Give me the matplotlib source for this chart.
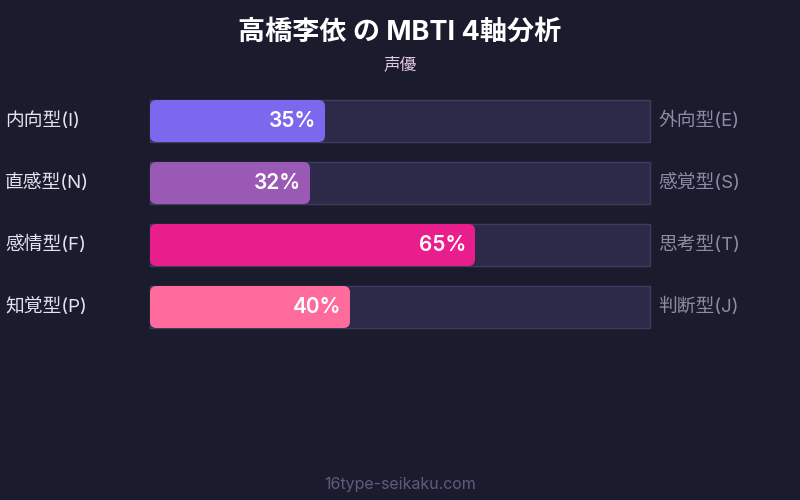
import matplotlib.pyplot as plt
from matplotlib.patches import FancyBboxPatch, Rectangle

plt.rcParams['font.family'] = ['Inter', 'Noto Sans CJK JP', 'DejaVu Sans']

title = '高橋李依 の MBTI 4軸分析'
subtitle = '声優'
footer = '16type-seikaku.com'

left_labels = ['内向型(I)', '直感型(N)', '感情型(F)', '知覚型(P)']
right_labels = ['外向型(E)', '感覚型(S)', '思考型(T)', '判断型(J)']
values = [35, 32, 65, 40]
colors = ['#7b68ee', '#9b59b6', '#e91e8c', '#ff6b9d']

bg = '#1b1b2e'
W, H = 800, 500

fig = plt.figure(figsize=(8, 5), dpi=100, facecolor=bg)

# track area: x 150..650 px, rows from y=90 px, 62 px apart
ax = fig.add_axes([150 / W, (H - 338) / H, 500 / W, 248 / H])
ax.set_facecolor('none')
ax.set_xlim(0, 100)
ax.set_ylim(len(values) - 0.5, -0.5)
ax.axis('off')

bar_h = 42 / 62
# pixels per data unit: x 5, y 62
aspect = 5 / 62

for i, (v, c) in enumerate(zip(values, colors)):
    ax.add_patch(Rectangle((0, i - bar_h / 2), 100, bar_h, facecolor='#2c2a48',
                           edgecolor='#3e3d5e', linewidth=1, clip_on=False))
    ax.add_patch(FancyBboxPatch((0, i - bar_h / 2), v, bar_h,
                                boxstyle='round,pad=0,rounding_size=1.3',
                                mutation_aspect=aspect, facecolor=c,
                                edgecolor='none', clip_on=False))
    ax.text(v - 1.8, i, f'{v}%', ha='right', va='center', color='white',
            fontsize=15, fontweight='semibold')
    ax.text(-29, i, left_labels[i], ha='left', va='center', color='#e4e4f0',
            fontsize=13.5)
    ax.text(101.6, i, right_labels[i], ha='left', va='center', color='#8c8ca4',
            fontsize=13.5)

fig.text(0.5, 1 - 33 / H, title, ha='center', va='center', color='white',
         fontsize=19.5, fontweight='bold')
fig.text(0.5, 1 - 64 / H, subtitle, ha='center', va='center', color='#e4c8e8',
         fontsize=12)
fig.text(0.5, 1 - 484 / H, footer, ha='center', va='center', color='#5c5c7c',
         fontsize=11.5)

fig.savefig('out.png', dpi=100, facecolor=bg)
